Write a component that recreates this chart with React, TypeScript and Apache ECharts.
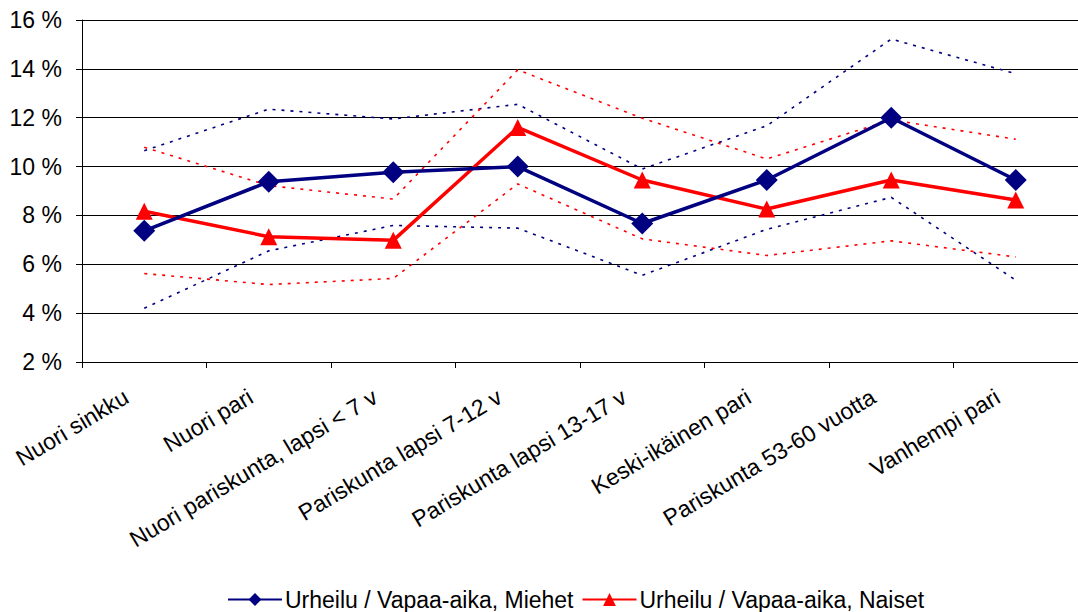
import React, { useEffect, useRef } from "react";
import * as echarts from "echarts";

const categories = [
  "Nuori sinkku",
  "Nuori pari",
  "Nuori pariskunta, lapsi < 7 v",
  "Pariskunta lapsi 7-12 v",
  "Pariskunta lapsi 13-17 v",
  "Keski-ikäinen pari",
  "Pariskunta 53-60 vuotta",
  "Vanhempi pari",
];

const miehet = [7.37, 9.38, 9.77, 10.0, 7.67, 9.45, 12.0, 9.45];
const miehetUpper = [10.65, 12.35, 11.95, 12.55, 9.9, 11.67, 15.22, 13.8];
const miehetLower = [4.2, 6.55, 7.59, 7.48, 5.55, 7.43, 8.74, 5.35];

const naiset = [8.17, 7.13, 6.98, 11.6, 9.45, 8.26, 9.45, 8.63];
const naisetUpper = [10.79, 9.22, 8.67, 13.96, 11.98, 10.31, 11.91, 11.12];
const naisetLower = [5.62, 5.17, 5.42, 9.29, 7.04, 6.36, 6.96, 6.3];

const yTicks = { min: 2, max: 16, interval: 2 };

const nameMiehet = "Urheilu / Vapaa-aika, Miehet";
const nameNaiset = "Urheilu / Vapaa-aika, Naiset";

const BLUE = "#000080";
const RED = "#ff0000";
const FONT = "'Liberation Sans', Arial, sans-serif";

export default function App() {
  const ref = useRef<HTMLDivElement>(null);
  useEffect(() => {
    if (!ref.current) return;
    const chart = echarts.init(ref.current, undefined, { renderer: "svg" });
    const dotted = (data: number[], color: string) => ({
      type: "line",
      data,
      symbol: "none",
      silent: true,
      lineStyle: { color, width: 1.6, type: [3, 6] },
      z: 1,
    });
    chart.setOption({
      animation: false,
      textStyle: { fontFamily: FONT },
      grid: { left: 82, right: -6, top: 20, bottom: 250, containLabel: false },
      legend: {
        data: [nameMiehet, nameNaiset],
        top: 583,
        left: 222,
        itemWidth: 54,
        itemHeight: 16,
        itemGap: 8,
        textStyle: { fontSize: 23, color: "#000", fontFamily: FONT, padding: [0, 0, 0, -2] },
      },
      xAxis: {
        type: "category",
        data: categories,
        boundaryGap: true,
        axisLine: { lineStyle: { color: "#000", width: 1 } },
        axisTick: { show: true, length: 6, lineStyle: { color: "#000" } },
        axisLabel: {
          rotate: 31,
          interval: 0,
          margin: 22,
          padding: [0, 21, 0, 0],
          fontSize: 23,
          color: "#000",
          fontFamily: FONT,
        },
      },
      yAxis: {
        type: "value",
        min: yTicks.min,
        max: yTicks.max,
        interval: yTicks.interval,
        axisLine: { show: true, lineStyle: { color: "#000", width: 1 } },
        axisTick: { show: true, length: 6, lineStyle: { color: "#000" } },
        splitLine: { lineStyle: { color: "#000", width: 1 } },
        axisLabel: {
          formatter: "{value} %",
          fontSize: 23,
          color: "#000",
          margin: 20,
          fontFamily: FONT,
        },
      },
      series: [
        dotted(miehetUpper, BLUE),
        dotted(miehetLower, BLUE),
        dotted(naisetUpper, RED),
        dotted(naisetLower, RED),
        {
          name: nameMiehet,
          type: "line",
          data: miehet,
          symbol: "diamond",
          symbolSize: 22,
          itemStyle: { color: BLUE },
          lineStyle: { color: BLUE, width: 3.5 },
          z: 5,
        },
        {
          name: nameNaiset,
          type: "line",
          data: naiset,
          symbol: "triangle",
          symbolSize: 17,
          itemStyle: { color: RED },
          lineStyle: { color: RED, width: 3.5 },
          z: 4,
        },
      ],
    });
    return () => chart.dispose();
  }, []);
  return <div ref={ref} style={{ width: 1078, height: 612, position: "absolute", left: 0, top: 0 }} />;
}
